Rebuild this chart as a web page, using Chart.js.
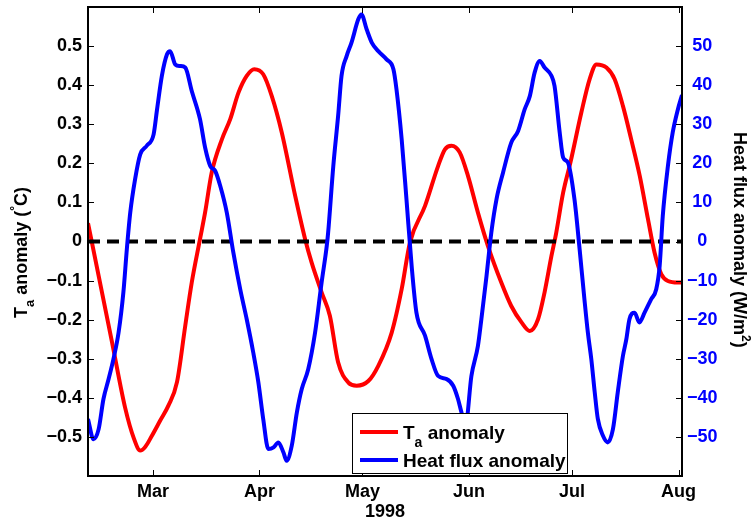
<!DOCTYPE html>
<html>
<head>
<meta charset="utf-8">
<title>Ta anomaly and heat flux anomaly, 1998</title>
<script src="https://cdn.jsdelivr.net/npm/chart.js@4.4.1/dist/chart.umd.min.js"></script>
<style>
  html, body { margin: 0; padding: 0; background: #fff; }
  canvas { display: block; }
</style>
</head>
<body>
<canvas id="anomalyChart" width="754" height="519"></canvas>
<script>
// x values are day of year 1998 (Jan 1 = 1)
const xMin = 41.1;
const xMax = 214;
const monthDays = [60, 91, 121, 152, 182, 213];
const monthLabels = ["Mar", "Apr", "May", "Jun", "Jul", "Aug"];
const yearLabel = "1998";

const taTicks = [-0.5, -0.4, -0.3, -0.2, -0.1, 0, 0.1, 0.2, 0.3, 0.4, 0.5];
const fluxTicks = [-50, -40, -30, -20, -10, 0, 10, 20, 30, 40, 50];

const taDays = [41.1, 44.2, 48.1, 51.9, 54.5, 56.3, 57.8, 59.7, 62.0, 64.5, 67.0, 69.4, 71.3, 73.7,
  75.2, 77.1, 80.1, 82.5, 84.9, 87.3, 89.5, 92.1, 94.6, 97.5, 101.4, 104.3, 106.2, 109.1, 111.5,
  113.9, 116.9, 119.3, 122.7, 125.6, 129.5, 132.4, 134.8, 139.2, 143.0, 145.0, 146.9, 149.3, 151.7,
  154.6, 157.5, 161.4, 164.3, 167.3, 169.7, 172.1, 174.0, 176.0, 177.4, 179.4, 181.6, 184.7, 187.1,
  189.1, 192.0, 194.4, 196.8, 199.2, 201.7, 204.1, 206.0, 208.0, 209.9, 212.8, 214.0];
const taValues = [0.047, -0.088, -0.258, -0.425, -0.505, -0.535, -0.525, -0.497, -0.46, -0.42, -0.36, -0.216, -0.105, 0.006,
  0.075, 0.176, 0.262, 0.313, 0.381, 0.424, 0.441, 0.428, 0.372, 0.279, 0.117, 0.006, -0.054, -0.13, -0.19,
  -0.309, -0.361, -0.369, -0.357, -0.318, -0.233, -0.122, -0.003, 0.091, 0.193, 0.236, 0.245, 0.228, 0.168,
  0.074, -0.011, -0.105, -0.165, -0.207, -0.229, -0.199, -0.13, -0.037, 0.023, 0.125, 0.205, 0.33, 0.415,
  0.453, 0.445, 0.415, 0.347, 0.262, 0.168, 0.057, -0.028, -0.084, -0.101, -0.105, -0.105];

const fluxDays = [41.1, 42.7, 44.2, 45.6, 47.1, 48.5, 50.0, 51.4, 52.4, 53.4, 54.8, 56.3, 58.2, 60.2,
  61.2, 62.6, 64.1, 65.0, 66.5, 67.9, 69.4, 71.3, 73.7, 75.2, 76.7, 78.1, 79.6, 81.5, 83.4, 85.4,
  87.3, 89.2, 90.7, 92.1, 93.6, 95.1, 96.5, 98.0, 98.9, 100.4, 101.9, 103.3, 105.2, 107.2, 109.1,
  110.6, 111.0, 112.5, 113.9, 114.9, 116.4, 117.8, 119.8, 120.7, 122.2, 123.7, 125.6, 128.0, 130.0,
  130.9, 132.4, 133.8, 135.3, 136.7, 139.2, 141.1, 143.0, 145.5, 147.4, 148.8, 149.8, 151.0, 152.7,
  154.6, 155.6, 157.1, 158.5, 160.0, 161.9, 164.3, 166.3, 168.2, 169.7, 171.1, 172.6, 174.0, 176.0,
  176.9, 178.4, 179.4, 180.8, 182.7, 184.2, 185.6, 186.6, 187.6, 188.6, 189.5, 191.0, 192.4, 193.9,
  195.3, 196.8, 197.8, 198.7, 200.2, 201.6, 203.1, 205.0, 206.5, 207.5, 208.4, 209.9, 211.3, 212.8, 214.0];
const fluxValues = [-45.4, -50.6, -48.0, -40.3, -35.2, -30.1, -23.3, -13.0, -2.0, 7.4, 15.9, 22.3, 24.5, 27.4,
  33.8, 42.4, 47.9, 48.7, 45.3, 44.9, 44.5, 38.5, 31.3, 24.0, 19.3, 18.1, 14.2, 7.4, -2.8, -12.2,
  -19.9, -28.4, -36.1, -45.4, -53.1, -52.7, -51.4, -54.0, -56.1, -52.3, -43.7, -37.8, -32.7, -23.3, -10.5,
  -1.1, 2.3, 19.3, 32.1, 42.4, 47.5, 50.9, 56.9, 58.1, 54.3, 50.9, 48.7, 46.6, 44.1,
  38.9, 26.2, 10.8, -6.2, -18.2, -24.1, -30.1, -34.4, -35.2, -36.9, -40.3, -43.7, -47.0, -34.4,
  -26.7, -19.9, -8.8, 2.3, 10.8, 17.6, 25.3, 28.3, 33.8, 37.2, 43.2, 46.2, 44.5, 42.4,
  39.8, 27.9, 21.5, 20.2, 10.8, -2.0, -14.8, -23.3, -30.1, -38.6, -45.4, -49.7, -51.4, -48.0,
  -38.6, -29.3, -25.0, -19.9, -18.2, -20.7, -18.2, -14.8, -12.2, -6.2, 6.5, 19.3, 27.9, 33.8, 37.5];

const FONT = "'Liberation Sans', Arial, Helvetica, sans-serif";
const RED = "#ff0000";
const BLUE = "#0000ff";

function bold(size) {
  return "bold " + size + "px " + FONT;
}

function minus(text) {
  return text.replace("-", "\u2212");
}

function toPoints(days, values) {
  return days.map((d, i) => ({ x: d, y: values[i] }));
}

// draws text pieces one after another; pieces can be raised or lowered
function drawPieces(ctx, pieces) {
  let x = 0;
  pieces.forEach(p => {
    ctx.font = bold(p.size);
    ctx.fillText(p.text, x, p.dy || 0);
    x += ctx.measureText(p.text).width;
  });
}

// -------- frame, inward ticks, titles, legend ----------
const decorPlugin = {
  id: "decor",
  afterDatasetsDraw(chart) {
    const { ctx, chartArea: a, scales } = chart;
    ctx.save();
    ctx.strokeStyle = "#000";
    ctx.lineWidth = 1;
    ctx.beginPath();
    monthDays.forEach(d => {
      const x = Math.round(scales.x.getPixelForValue(d)) + 0.5;
      ctx.moveTo(x, a.bottom); ctx.lineTo(x, a.bottom - 6);
      ctx.moveTo(x, a.top); ctx.lineTo(x, a.top + 6);
    });
    taTicks.forEach(v => {
      const y = Math.round(scales.y.getPixelForValue(v)) + 0.5;
      ctx.moveTo(a.left, y); ctx.lineTo(a.left + 6, y);
    });
    fluxTicks.forEach(v => {
      const y = Math.round(scales.y1.getPixelForValue(v)) + 0.5;
      ctx.moveTo(a.right, y); ctx.lineTo(a.right - 6, y);
    });
    ctx.stroke();

    ctx.lineWidth = 2;
    ctx.strokeRect(a.left, a.top, a.right - a.left, a.bottom - a.top);
    ctx.restore();
  },
  afterDraw(chart) {
    const { ctx, chartArea: a } = chart;
    ctx.save();
    ctx.fillStyle = "#000";
    ctx.textBaseline = "alphabetic";

    // year under the month labels
    ctx.font = bold(18);
    ctx.textAlign = "center";
    ctx.fillText(yearLabel, (a.left + a.right) / 2, 517);
    ctx.textAlign = "left";

    // left title
    ctx.save();
    ctx.translate(27, 318);
    ctx.rotate(-Math.PI / 2);
    drawPieces(ctx, [
      { text: "T", size: 18 },
      { text: "a", size: 13, dy: 7 },
      { text: " anomaly (", size: 18 },
      { text: "\u00b0", size: 12, dy: -8 },
      { text: "C)", size: 18 }
    ]);
    ctx.restore();

    // right title
    ctx.save();
    ctx.translate(734, 132);
    ctx.rotate(Math.PI / 2);
    drawPieces(ctx, [
      { text: "Heat flux anomaly (W/m", size: 18 },
      { text: "2", size: 12, dy: -8 },
      { text: ")", size: 18 }
    ]);
    ctx.restore();

    // legend box
    const lx = 352, ly = 413, lw = 216, lh = 61;
    ctx.fillStyle = "#fff";
    ctx.fillRect(lx, ly, lw, lh);
    ctx.strokeStyle = "#000";
    ctx.lineWidth = 1;
    ctx.strokeRect(lx + 0.5, ly + 0.5, lw - 1, lh - 1);

    const rows = [
      { color: RED, y: 432, pieces: [{ text: "T", size: 19 }, { text: "a", size: 14, dy: 8 }, { text: " anomaly", size: 19 }] },
      { color: BLUE, y: 460, pieces: [{ text: "Heat flux anomaly", size: 19 }] }
    ];
    rows.forEach(r => {
      ctx.strokeStyle = r.color;
      ctx.lineWidth = 4;
      ctx.beginPath();
      ctx.moveTo(360, r.y);
      ctx.lineTo(398, r.y);
      ctx.stroke();
      ctx.fillStyle = "#000";
      ctx.save();
      ctx.translate(403, r.y + 7);
      drawPieces(ctx, r.pieces);
      ctx.restore();
    });
    ctx.restore();
  }
};

const ctx = document.getElementById("anomalyChart").getContext("2d");

new Chart(ctx, {
  type: "line",
  data: {
    datasets: [
      {
        label: "Heat flux anomaly",
        data: toPoints(fluxDays, fluxValues),
        yAxisID: "y1",
        borderColor: BLUE,
        borderWidth: 4,
        pointRadius: 0,
        cubicInterpolationMode: "monotone"
      },
      {
        label: "zero",
        data: [{ x: xMin, y: 0 }, { x: xMax, y: 0 }],
        yAxisID: "y",
        borderColor: "#000",
        borderWidth: 4,
        borderDash: [12, 7],
        pointRadius: 0
      },
      {
        label: "Ta anomaly",
        data: toPoints(taDays, taValues),
        yAxisID: "y",
        borderColor: RED,
        borderWidth: 4,
        pointRadius: 0,
        cubicInterpolationMode: "monotone"
      }
    ]
  },
  options: {
    responsive: false,
    animation: false,
    events: [],
    layout: { padding: { top: 7, left: 0, right: 0, bottom: 0 } },
    plugins: {
      legend: { display: false },
      tooltip: { enabled: false }
    },
    scales: {
      x: {
        type: "linear",
        position: "bottom",
        min: xMin,
        max: xMax,
        grid: { display: false, drawTicks: false },
        border: { display: false },
        afterBuildTicks: s => { s.ticks = monthDays.map(v => ({ value: v })); },
        afterFit: s => { s.height = 43; s.paddingLeft = 0; s.paddingRight = 0; },
        ticks: {
          autoSkip: false,
          maxRotation: 0,
          padding: 5,
          color: "#000",
          font: { family: FONT, size: 18, weight: "bold" },
          callback: v => monthLabels[monthDays.indexOf(v)]
        }
      },
      y: {
        type: "linear",
        position: "left",
        min: -0.6,
        max: 0.6,
        grid: { display: false, drawTicks: false },
        border: { display: false },
        afterBuildTicks: s => { s.ticks = taTicks.map(v => ({ value: v })); },
        afterFit: s => { s.width = 88; s.paddingTop = 0; s.paddingBottom = 0; },
        ticks: {
          padding: 6,
          color: "#000",
          font: { family: FONT, size: 18, weight: "bold" },
          callback: v => v === 0 ? "0" : minus(v.toFixed(1))
        }
      },
      y1: {
        type: "linear",
        position: "right",
        min: -60,
        max: 60,
        grid: { display: false, drawTicks: false },
        border: { display: false },
        afterBuildTicks: s => { s.ticks = fluxTicks.map(v => ({ value: v })); },
        afterFit: s => { s.width = 72; s.paddingTop = 0; s.paddingBottom = 0; },
        ticks: {
          padding: 5,
          crossAlign: "center",
          color: BLUE,
          font: { family: FONT, size: 18, weight: "bold" },
          callback: v => v < 0 ? minus(String(v)) : String(v)
        }
      }
    }
  },
  plugins: [decorPlugin]
});
</script>
</body>
</html>
